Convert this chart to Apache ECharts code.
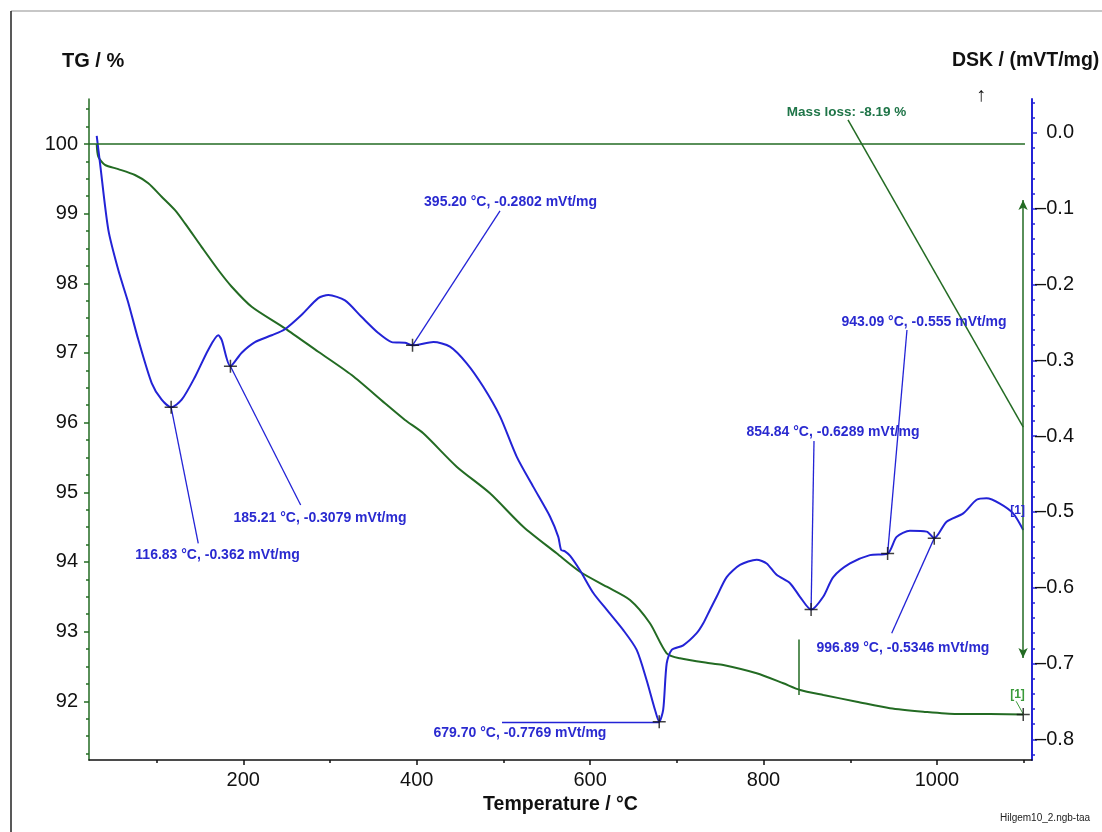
<!DOCTYPE html>
<html><head><meta charset="utf-8">
<script src="https://cdn.jsdelivr.net/npm/echarts@6/dist/echarts.min.js"></script>
<style>html,body{margin:0;padding:0;background:#fff}#c{width:1102px;height:832px}</style>
</head><body><div id="c"></div>
<script>
// ---------- data ----------
const dscT = [31, 34.8, 44.4, 55.9, 67.4, 79.0, 94.4, 105.9, 116.83, 129.0, 144.3, 159.7, 171.2, 175.1, 185.21, 198.2, 213.5, 232.8, 248.1, 267.4, 286.5, 298.1, 317.3, 336.6, 355.7, 371.2, 386.5, 395.2, 419.3, 438.4, 457.7, 476.8, 496.1, 515.3, 534.5, 553.7, 563.3, 566.5, 571.0, 577.0, 588.3, 603.7, 619.1, 638.3, 653.7, 665.2, 674.8, 679.7, 684.3, 688.3, 694.1, 707.4, 722.9, 730.5, 738.3, 745.9, 757.5, 772.8, 792.1, 803.6, 815.1, 830.5, 842.0, 854.84, 868.8, 880.4, 899.7, 922.7, 943.09, 953.5, 968.9, 988.1, 996.89, 1011.1, 1030.3, 1045.7, 1057.2, 1072.6, 1087.9, 1099.5];
const dscV = [-0.004, -0.040, -0.128, -0.181, -0.224, -0.273, -0.330, -0.352, -0.362, -0.352, -0.322, -0.286, -0.267, -0.273, -0.3079, -0.290, -0.276, -0.267, -0.259, -0.240, -0.218, -0.214, -0.221, -0.243, -0.264, -0.276, -0.277, -0.2802, -0.276, -0.282, -0.304, -0.335, -0.374, -0.427, -0.467, -0.506, -0.533, -0.550, -0.552, -0.558, -0.577, -0.607, -0.629, -0.656, -0.682, -0.722, -0.761, -0.7769, -0.761, -0.700, -0.682, -0.676, -0.660, -0.647, -0.629, -0.612, -0.586, -0.570, -0.563, -0.568, -0.583, -0.594, -0.612, -0.6289, -0.612, -0.586, -0.568, -0.557, -0.555, -0.533, -0.525, -0.526, -0.5346, -0.513, -0.502, -0.484, -0.482, -0.489, -0.502, -0.524];
const tgT = [31, 32.8, 40.5, 55.9, 75.1, 90.5, 105.9, 121.3, 132.8, 152.1, 171.2, 186.7, 209.7, 248.1, 286.5, 325.0, 363.4, 386.5, 407.6, 446.1, 484.5, 522.9, 561.4, 588.3, 619.1, 646.0, 669.0, 688.3, 703.6, 738.2, 753.6, 792.1, 822.8, 842.3, 869.0, 907.4, 945.8, 984.2, 1022.7, 1061.1, 1099.5];
const tgV = [100.0, 99.82, 99.70, 99.64, 99.555, 99.436, 99.243, 99.05, 98.86, 98.52, 98.191, 97.951, 97.664, 97.354, 97.018, 96.683, 96.278, 96.038, 95.847, 95.368, 94.986, 94.506, 94.124, 93.86, 93.645, 93.454, 93.12, 92.689, 92.617, 92.545, 92.521, 92.402, 92.258, 92.162, 92.090, 91.994, 91.899, 91.850, 91.817, 91.817, 91.81];
const peakT = [116.83, 185.21, 395.20, 679.70, 854.84, 943.09, 996.89];
const peakV = [-0.362, -0.3079, -0.2802, -0.7769, -0.6289, -0.555, -0.5346];
const massLoss = -8.19;
const tgEndT = 1099.5, tgEndV = 91.81;
const xMajor = [200, 400, 600, 800, 1000];
const xMinor = [100, 300, 500, 700, 900, 1100];
const tgMajor = [92, 93, 94, 95, 96, 97, 98, 99, 100];
const dscMajor = [0, -0.1, -0.2, -0.3, -0.4, -0.5, -0.6, -0.7, -0.8];

// ---------- layout ----------
const xMin = 22.1, xMax = 1109.6;
const tgMin = 91.157, tgMax = 100.646;
const dscMin = -0.8273, dscMax = 0.0447;
const tgMinor = []; for (let v = 91.25; v <= 100.6; v += 0.25) { const r = Math.round(v*100)/100; if (r % 1 !== 0) tgMinor.push(r); }
const dscMinor = []; for (let k = 2; k >= -41; k--) { if (k % 5 !== 0) dscMinor.push(Math.round(k*2)/100); }
const annoLayout = [
  {end:[148.1,-0.5414], text:[170.3,-0.5569]},
  {end:[266.2,-0.4909], text:[288.5,-0.508]},
  {end:[496.1,-0.103],  text:[508.2,-0.0912]},
  {end:[498.4,-0.7769], text:[519.1,-0.792]},
  {end:[858.2,-0.4065], text:[880.1,-0.3946]},
  {end:[965.4,-0.26],   text:[985.0,-0.2496]},
  {end:[947.8,-0.66],   text:[960.8,-0.6795]}
];

const FONT = "'Liberation Sans',Arial,sans-serif";
const green = '#236b23', blue = '#2323d6', black = '#111';
const crossPath = 'path://M0,6L12,6M6,0L6,12';

const peakLabel = (t, v) => t.toFixed(2) + ' °C, ' + String(v) + ' mVt/mg';

const chart = echarts.init(document.getElementById('c'), null, {renderer:'canvas'});
chart.setOption({
  animation: false,
  backgroundColor: '#fff',
  grid: {left: 89, right: 70, top: 99, bottom: 72, containLabel: false, outerBoundsMode: 'none'},
  title: [
    {text: 'TG / %', left: 62, top: 51, padding: 0, textStyle: {fontFamily: FONT, fontWeight: 'bold', fontSize: 20, color: black}},
    {text: 'DSK / (mVT/mg)', left: 952, top: 51, padding: 0, textStyle: {fontFamily: FONT, fontWeight: 'bold', fontSize: 19.5, color: black}},
    {text: '↑', left: 976, top: 85, padding: 0, textStyle: {fontFamily: FONT, fontWeight: 'normal', fontSize: 20, color: black}},
    {text: 'Hilgem10_2.ngb-taa', left: 1000, top: 813, padding: 0, textStyle: {fontFamily: FONT, fontWeight: 'normal', fontSize: 10, color: '#222'}}
  ],
  graphic: [
    {type: 'line', shape: {x1: 11, y1: 11, x2: 1102, y2: 11}, style: {stroke: '#b4b4b4', lineWidth: 1.5}},
    {type: 'line', shape: {x1: 11, y1: 11, x2: 11, y2: 832}, style: {stroke: '#222', lineWidth: 1.5}}
  ],
  xAxis: [
    {type: 'value', min: xMin, max: xMax, position: 'bottom',
     axisLine: {show: true, onZero: false, lineStyle: {color: black, width: 1.5}},
     axisTick: {show: true, customValues: xMajor, length: 5, lineStyle: {color: black, width: 1.5}},
     axisLabel: {customValues: xMajor, fontSize: 20, color: black, margin: 10, fontFamily: FONT, formatter: v => String(v)},
     splitLine: {show: false},
     name: 'Temperature / °C', nameLocation: 'middle', nameGap: 32,
     nameTextStyle: {fontFamily: FONT, fontWeight: 'bold', fontSize: 19.5, color: black}},
    {type: 'value', min: xMin, max: xMax, position: 'bottom',
     axisLine: {show: false, onZero: false},
     axisTick: {show: true, customValues: xMinor, length: 3, lineStyle: {color: black, width: 1.5}},
     axisLabel: {show: false}, splitLine: {show: false}}
  ],
  yAxis: [
    {type: 'value', min: tgMin, max: tgMax, position: 'left',
     axisLine: {show: true, onZero: false, lineStyle: {color: green, width: 1.5}},
     axisTick: {show: true, customValues: tgMajor, length: 5, lineStyle: {color: green, width: 1.5}},
     axisLabel: {customValues: tgMajor, fontSize: 20, color: black, margin: 11, fontFamily: FONT},
     splitLine: {show: false}},
    {type: 'value', min: tgMin, max: tgMax, position: 'left',
     axisLine: {show: false, onZero: false},
     axisTick: {show: true, customValues: tgMinor, length: 3, lineStyle: {color: green, width: 1.5}},
     axisLabel: {show: false}, splitLine: {show: false}},
    {type: 'value', min: dscMin, max: dscMax, position: 'right',
     axisLine: {show: true, onZero: false, lineStyle: {color: blue, width: 2}},
     axisTick: {show: true, customValues: dscMajor, length: 5, lineStyle: {color: blue, width: 1.5}},
     axisLabel: {customValues: dscMajor, fontSize: 20, color: black, margin: 42, align: 'right', fontFamily: FONT,
       formatter: v => (Math.abs(v) < 1e-9 ? '0.0' : (v < 0 ? '–' : '') + Math.abs(v).toFixed(1))},
     splitLine: {show: false}},
    {type: 'value', min: dscMin, max: dscMax, position: 'right',
     axisLine: {show: false, onZero: false},
     axisTick: {show: true, customValues: dscMinor, length: 3, lineStyle: {color: blue, width: 1.5}},
     axisLabel: {show: false}, splitLine: {show: false}}
  ],
  series: [
    {type: 'line', name: 'TG', xAxisIndex: 0, yAxisIndex: 0, z: 3,
     data: tgT.map((t, i) => [t, tgV[i]]), showSymbol: false, smooth: 0.25,
     lineStyle: {color: green, width: 2}, silent: true,
     markLine: {silent: true, symbol: 'none', label: {show: false}, animation: false,
       lineStyle: {color: green, width: 1.5, type: 'solid'},
       emphasis: {disabled: true},
       data: [
         [{coord: [xMin, 100]}, {coord: [1101.5, 100]}],
         [{coord: [897.4, 100.345]}, {coord: [1099.5, 95.937]}],
         [{coord: [840.9, 92.887]}, {coord: [840.9, 92.09]}],
         [{coord: [1091.3, 92.0], lineStyle: {width: 1, color: '#3a9a3a'}}, {coord: [1099.5, 91.817]}],
         [{coord: [1099.3, 99.196], symbol: 'arrow', symbolSize: [7, 10]}, {coord: [1099.3, 92.621], symbol: 'arrow', symbolSize: [7, 10]}]
       ]},
     markPoint: {silent: true, symbol: 'rect', symbolSize: 0, animation: false,
       label: {show: true, position: 'inside', formatter: '{b}', fontFamily: FONT, fontWeight: 'bold', fontSize: 13.5},
       data: [
         {coord: [895.7, 100.459], name: 'Mass loss: ' + massLoss.toFixed(2) + ' %', label: {color: '#1f7548'}},
         {coord: [1092.9, 92.09], name: '[1]', label: {color: '#3a9a3a', fontSize: 12}}
       ]}
    },
    {type: 'line', name: 'DSC', xAxisIndex: 0, yAxisIndex: 2, z: 4,
     data: dscT.map((t, i) => [t, dscV[i]]), showSymbol: false, smooth: 0.25,
     lineStyle: {color: blue, width: 2}, silent: true,
     markLine: {silent: true, symbol: 'none', label: {show: false}, animation: false,
       lineStyle: {color: blue, width: 1.3, type: 'solid'},
       emphasis: {disabled: true},
       data: peakT.map((t, i) => [{coord: [t, peakV[i]]}, {coord: annoLayout[i].end}])},
     markPoint: {silent: true, symbol: 'rect', symbolSize: 0, animation: false,
       label: {show: true, position: 'inside', formatter: '{b}', fontFamily: FONT, fontWeight: 'bold', fontSize: 14, color: '#2a2ad0'},
       data: peakT.map((t, i) => ({coord: annoLayout[i].text, name: peakLabel(t, peakV[i])}))
         .concat([{coord: [1093, -0.4988], name: '[1]', label: {fontSize: 12}}])}
    },
    {type: 'scatter', xAxisIndex: 0, yAxisIndex: 2, z: 6, silent: true,
     data: peakT.map((t, i) => [t, peakV[i]]), symbol: crossPath, symbolSize: 13,
     itemStyle: {color: 'rgba(0,0,0,0)', borderColor: '#111', borderWidth: 1.5}},
    {type: 'scatter', xAxisIndex: 0, yAxisIndex: 0, z: 6, silent: true,
     data: [[tgEndT, tgEndV]], symbol: crossPath, symbolSize: 13,
     itemStyle: {color: 'rgba(0,0,0,0)', borderColor: '#111', borderWidth: 1.5}}
  ]
});
</script>
</body></html>
